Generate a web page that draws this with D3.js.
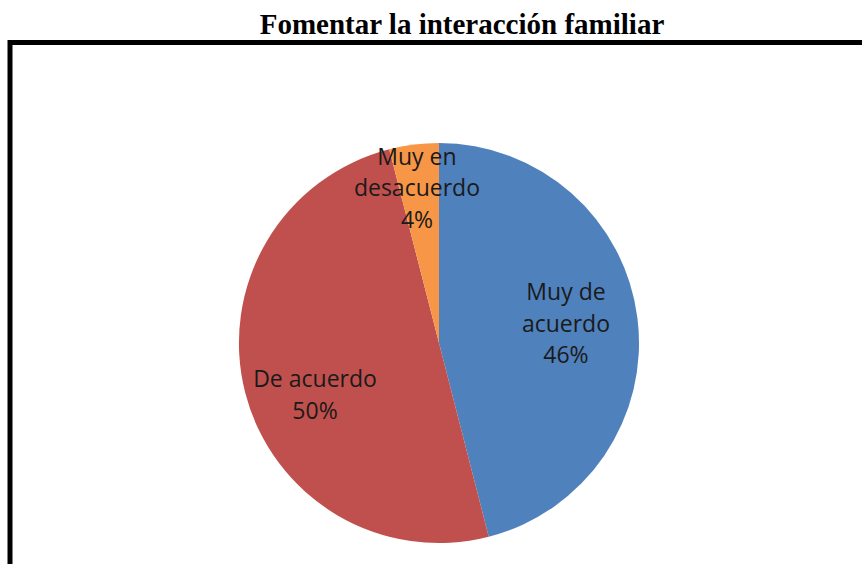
<!DOCTYPE html>
<html>
<head>
<meta charset="utf-8">
<script src="https://cdn.jsdelivr.net/npm/d3@7"></script>
<style>
  html, body { margin: 0; padding: 0; background: #fff; }
  svg { display: block; }
</style>
</head>
<body>
<svg id="chart" width="862" height="564"></svg>
<script>
// chart data
const categories = ["Muy de acuerdo", "De acuerdo", "Muy en desacuerdo"]
const labelLines = [["Muy de", "acuerdo"], ["De acuerdo"], ["Muy en", "desacuerdo"]]
const percents = [46, 50, 4]
const sliceColors = ["#4f81bd", "#c0504d", "#f79646"]

const width = 862, height = 564
const cx = 439, cy = 343, radius = 200

// excel "best fit" puts some labels a bit off the centroid
const labelNudge = { "Muy de acuerdo": [0, -3], "De acuerdo": [0, 20], "Muy en desacuerdo": [-2, 4] }

const svg = d3.select("#chart")

// title
svg.append("text")
  .attr("x", 462)
  .attr("y", 34)
  .attr("text-anchor", "middle")
  .style("font-family", "'Liberation Serif', 'Times New Roman', serif")
  .style("font-weight", "bold")
  .style("font-size", "29px")
  .attr("fill", "#000")
  .text("Fomentar la interacción familiar")

// frame (runs off right and bottom edge like the original)
svg.append("path")
  .attr("d", "M10," + (height + 10) + " L10,42.5 L" + (width + 10) + ",42.5")
  .attr("fill", "none")
  .attr("stroke", "#000")
  .attr("stroke-width", 5)

const color = d3.scaleOrdinal()
  .domain(categories)
  .range(sliceColors)

const pie = d3.pie()
  .sort(null)
  .value(d => d.value)

const data = categories.map((c, i) => ({ name: c, value: percents[i], lines: labelLines[i] }))
const arcs = pie(data)

const arc = d3.arc()
  .innerRadius(0)
  .outerRadius(radius)

const g = svg.append("g")
  .attr("transform", "translate(" + cx + "," + cy + ")")

g.selectAll(".slice")
  .data(arcs)
  .enter().append("path")
    .attr("class", "slice")
    .attr("d", arc)
    .attr("fill", d => color(d.data.name))

// labels: small slices get pushed toward the rim
const labelArc = d => {
  const share = (d.endAngle - d.startAngle) / (2 * Math.PI)
  const r = share < 0.1 ? radius * 0.8 : radius * 0.64
  return d3.arc().innerRadius(r).outerRadius(r).centroid(d)
}

const lineH = 31.5

g.selectAll(".lbl")
  .data(arcs)
  .enter().append("text")
    .attr("class", "lbl")
    .attr("text-anchor", "middle")
    .style("font-family", "'Open Sans', sans-serif")
    .style("font-size", "23px")
    .attr("fill", "#1a1a1a")
    .each(function(d) {
      const [x0, y0] = labelArc(d)
      const nudge = labelNudge[d.data.name] || [0, 0]
      const x = x0 + nudge[0], y = y0 + nudge[1]
      const lines = d.data.lines.concat([d.data.value + "%"])
      const top = y - (lines.length - 1) * lineH / 2 + 8
      d3.select(this).selectAll("tspan")
        .data(lines)
        .enter().append("tspan")
          .attr("x", x)
          .attr("y", (t, i) => top + i * lineH)
          .text(t => t)
    })
</script>
</body>
</html>
